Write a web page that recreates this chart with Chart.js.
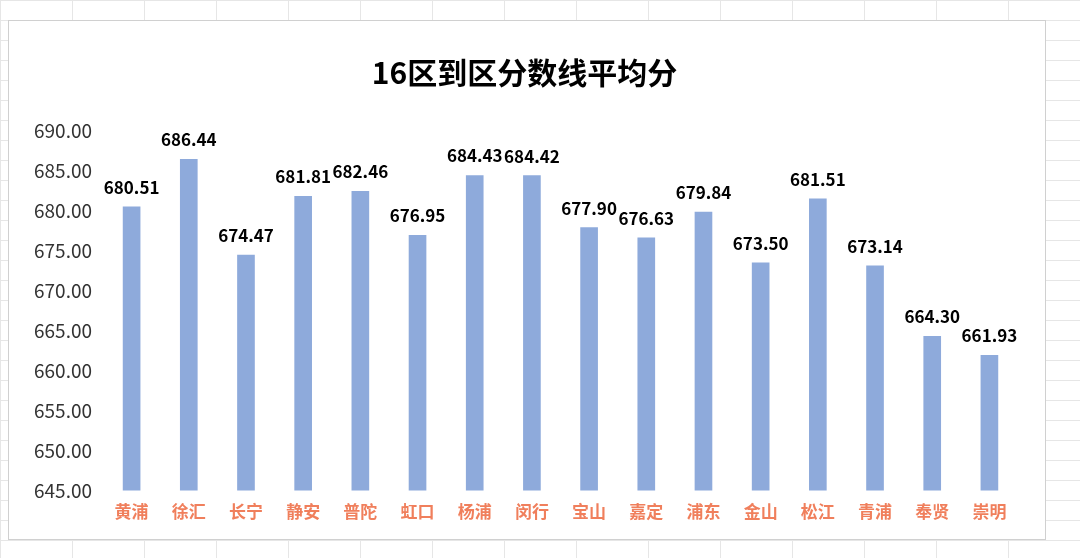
<!DOCTYPE html>
<html><head><meta charset="utf-8">
<script src="https://cdn.jsdelivr.net/npm/chart.js@4"></script>
<style>
html,body{margin:0;padding:0;background:#fff;}
#wrap{position:absolute;left:8px;top:20px;width:1036px;height:518px;border:1px solid #d0d0d0;background:#fff;}
body{background-image:linear-gradient(#e6e6e6 1px,transparent 1px),linear-gradient(90deg,#e6e6e6 1px,transparent 1px);background-size:72px 20px;width:1080px;height:558px;}
</style></head><body>
<div id="wrap"><canvas id="c" width="1036" height="518"></canvas></div>
<script>
const categories=["黄浦","徐汇","长宁","静安","普陀","虹口","杨浦","闵行","宝山","嘉定","浦东","金山","松江","青浦","奉贤","崇明"];
const scores=[680.51,686.44,674.47,681.81,682.46,676.95,684.43,684.42,677.90,676.63,679.84,673.50,681.51,673.14,664.30,661.93];
const titleText="16区到区分数线平均分";
const labelPlugin={id:'lbl',afterDatasetsDraw(ch){const ctx=ch.ctx;const m=ch.getDatasetMeta(0);ctx.save();ctx.font='bold 17px "Noto Sans CJK SC", Arial';ctx.fillStyle='#000';ctx.textAlign='center';ctx.textBaseline='bottom';m.data.forEach((b,i)=>{ctx.fillText(scores[i].toFixed(2),b.x,b.y-11);});ctx.restore();}};
new Chart(document.getElementById('c'),{type:'bar',
data:{labels:categories,datasets:[{data:scores,backgroundColor:'#8eaadb',barThickness:17,base:645}]},
options:{responsive:false,animation:false,
layout:{padding:{left:22,right:27,top:14,bottom:14}},
plugins:{legend:{display:false},tooltip:{enabled:false},
title:{display:true,text:titleText,font:{size:30,weight:'bold',family:'"Noto Sans CJK SC"'},color:'#000',padding:{top:20,bottom:40}}},
scales:{x:{grid:{display:false},border:{display:false},ticks:{color:'#f07f5c',font:{size:17,weight:'bold',family:'"Noto Sans CJK SC"'}}},
y:{min:645,max:690,grid:{display:false},border:{display:false},ticks:{stepSize:5,color:'#333',font:{size:19,family:'"Noto Sans CJK SC"'},callback:v=>v.toFixed(2)}}}},
plugins:[labelPlugin]});
</script></body></html>
